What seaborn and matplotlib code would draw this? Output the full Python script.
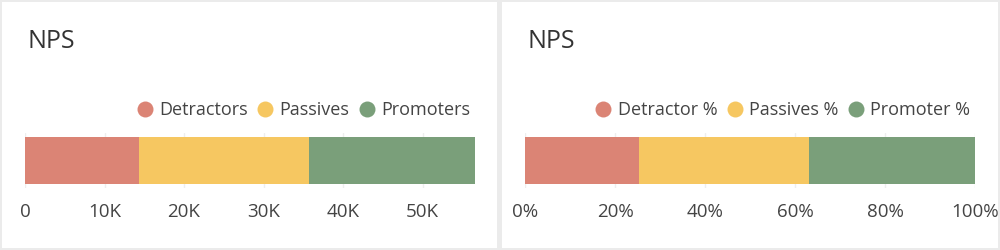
import matplotlib
matplotlib.use("Agg")
import matplotlib.pyplot as plt
from matplotlib.patches import Rectangle
from matplotlib.lines import Line2D
import seaborn as sns
import pandas as pd

# ---- data ----
count_labels = ["Detractors", "Passives", "Promoters"]
count_values = [14300, 21400, 20900]
pct_labels = ["Detractor %", "Passives %", "Promoter %"]
pct_values = [25.3, 37.8, 36.9]
count_ticks = [0, 10000, 20000, 30000, 40000, 50000]
count_tick_labels = ["0", "10K", "20K", "30K", "40K", "50K"]
pct_ticks = [0, 20, 40, 60, 80, 100]
pct_tick_labels = ["0%", "20%", "40%", "60%", "80%", "100%"]
title = "NPS"
colors = ["#db8475", "#f6c761", "#7a9f7a"]

sns.set_theme(style="white")
plt.rcParams["font.family"] = ["Open Sans", "DejaVu Sans"]

W, H = 1000, 250
fig = plt.figure(figsize=(W / 100, H / 100), dpi=100)
fig.patch.set_facecolor("#ebebeb")
# white panels
for x0, x1 in [(2, 497), (502, 998)]:
    fig.patches.append(Rectangle((x0 / W, 2 / H), (x1 - x0) / W, (H - 4) / H,
                                 transform=fig.transFigure, facecolor="white",
                                 edgecolor="none", zorder=-10))


def panel(px_left, labels, values, ticks, tick_labels, xmax):
    ax = fig.add_axes([(px_left) / W, (H - 188) / H, 450 / W, 55 / H])
    ax.set_facecolor("none")
    cum = pd.Series(values).cumsum().tolist()
    df = pd.DataFrame({"seg": labels, "cum": cum, "row": ["NPS"] * 3})
    # draw cumulative bars from largest to smallest so they stack visually
    for i in reversed(range(len(labels))):
        sns.barplot(data=df.iloc[[i]], x="cum", y="row", color=colors[i],
                    orient="h", width=0.855, ax=ax, saturation=1,
                    linewidth=0, zorder=2)
    ax.set_xlim(0, xmax)
    ax.set_ylim(0.5, -0.5)
    ax.set_xticks(ticks)
    ax.set_xticklabels(tick_labels)
    ax.set_yticks([])
    ax.set_xlabel("")
    ax.set_ylabel("")
    for s in ax.spines.values():
        s.set_visible(False)
    ax.grid(axis="x", color="#eeeeee", linewidth=1, zorder=0)
    ax.set_axisbelow(True)
    ax.tick_params(axis="x", length=0, pad=11, labelsize=13.5, labelcolor="#444444")
    # title
    fig.text((px_left + 2) / W, 1 - 42 / H, title, fontsize=18, color="#333333",
             va="center", ha="left")
    handles = [Line2D([], [], marker="o", linestyle="none", markersize=11.5,
                      markerfacecolor=c, markeredgecolor="none") for c in colors]
    leg = ax.legend(handles, labels, loc="center right", ncol=3, frameon=False,
                    bbox_to_anchor=(445 / 450, (188 - 110) / 55),
                    bbox_transform=ax.transAxes,
                    handlelength=0.7, handletextpad=0.45, columnspacing=0.6,
                    fontsize=13, borderaxespad=0, borderpad=0)
    for t in leg.get_texts():
        t.set_color("#444444")
    return ax


panel(25, count_labels, count_values, count_ticks, count_tick_labels,
      sum(count_values))
panel(525, pct_labels, pct_values, pct_ticks, pct_tick_labels, 100)

fig.savefig("out.png", dpi=100, facecolor=fig.get_facecolor())
